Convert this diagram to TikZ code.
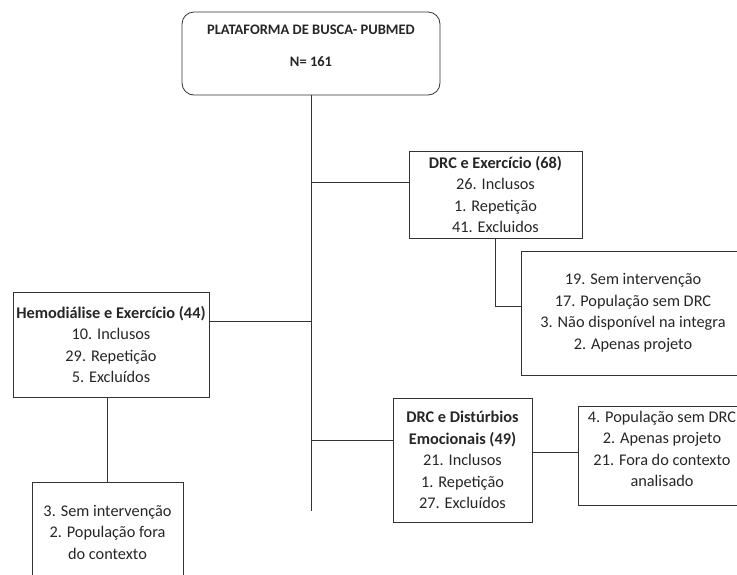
\documentclass[tikz,border=0pt]{standalone}
\usepackage{fontspec}
\setmainfont{Carlito}
\usetikzlibrary{positioning}

\tikzset{
  caixa/.style={draw=black!80, line width=0.8pt, align=center, inner sep=2pt,
    text=black!85, font=\fontsize{16.3}{21.5}\selectfont},
  liga/.style={draw=black!80, line width=0.8pt}
}

\begin{document}
\begin{tikzpicture}[x=1pt,y=-1pt]
  \clip (0,0) rectangle (737,574);

  \node[caixa, rounded corners=12pt, minimum width=258, minimum height=83,
        font=\bfseries\fontsize{14.5}{21.5}\selectfont] (busca) at (311,53.5)
        {PLATAFORMA DE BUSCA- PUBMED\\[10pt]N= 161\\[-6pt]\mbox{}};
  \coordinate (fim) at (311,511);

  \node[caixa, minimum width=173, minimum height=87] (exer) at (495.5,194.5)
        {\textbf{DRC e Exercício (68)}\\26. Inclusos\\1. Repetição\\41. Excluidos};
  \node[caixa, minimum width=224, minimum height=124] (semint) at (633,313)
        {19. Sem intervenção\\17. População sem DRC\\3. Não disponível na integra\\2. Apenas projeto};

  \node[caixa, minimum width=196, minimum height=105] (hemo) at (111,344.5)
        {\textbf{Hemodiálise e Exercício (44)}\\10. Inclusos\\29. Repetição\\5. Excluídos};
  \node[caixa, minimum width=151, minimum height=100] (fora) at (107.5,532)
        {3. Sem intervenção\\2. População fora\\do contexto};

  \node[caixa, minimum width=139, minimum height=124] (distur) at (462.5,460)
        {\textbf{DRC e Distúrbios}\\\textbf{Emocionais (49)}\\21. Inclusos\\1. Repetição\\27. Excluídos};
  \node[caixa, minimum width=168, minimum height=99] (contexto) at (662,455.5)
        {4. População sem DRC\\2. Apenas projeto\\21. Fora do contexto\\analisado\\[-8pt]\mbox{}};

  % tronco e ramos
  \draw[liga] (busca.south) -- (fim);
  \draw[liga] ([yshift=12.5pt]exer.west) -- ([yshift=12.5pt]exer.west -| busca.south);
  \draw[liga] (exer.south) |- ([yshift=7pt]semint.west);
  \draw[liga] ([yshift=23.5pt]hemo.east) -- ([yshift=23.5pt]hemo.east -| busca.south);
  \draw[liga] ([xshift=15pt]hemo.south -| fora.north) -- (hemo.south -| fora.north) -- (fora.north);
  \draw[liga] ([yshift=20pt]distur.west) -- ([yshift=20pt]distur.west -| busca.south);
  \draw[liga] ([yshift=8pt]distur.east) -- ([yshift=8pt]distur.east -| contexto.west);
\end{tikzpicture}
\end{document}
